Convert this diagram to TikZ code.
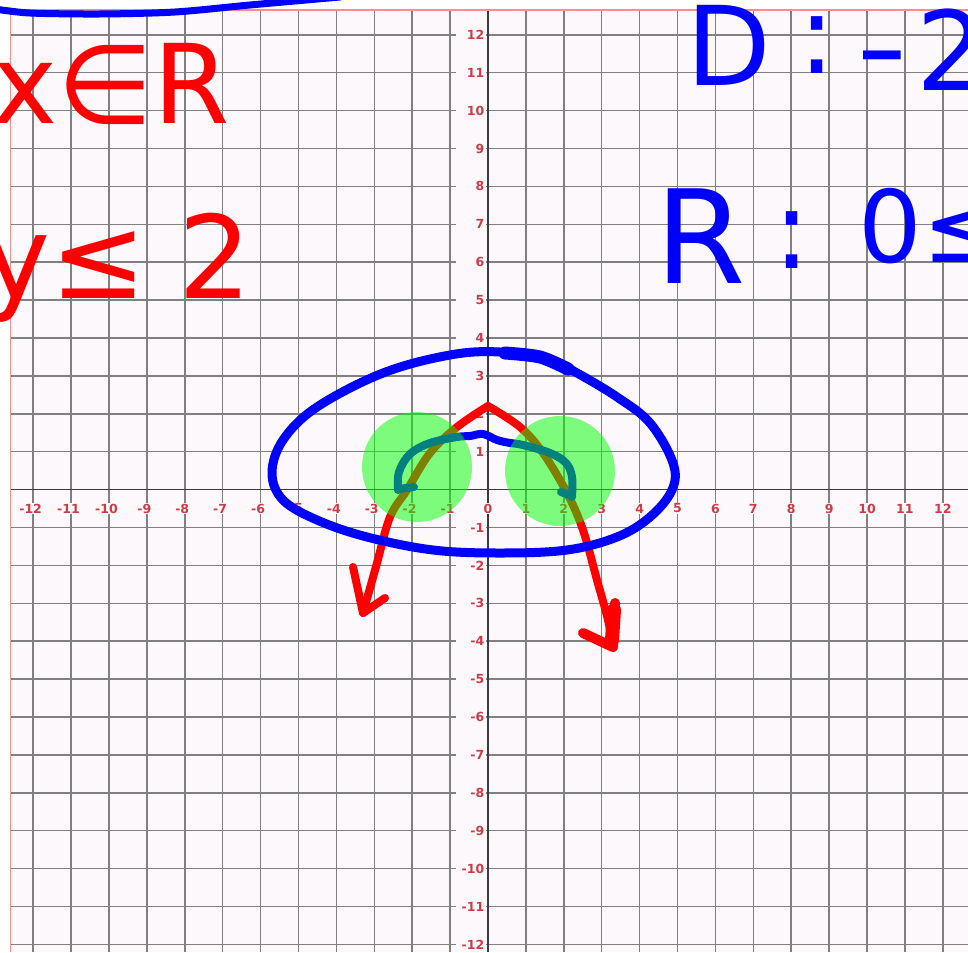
\documentclass[tikz,border=0pt]{standalone}
\usepackage{fontspec}
\newfontfamily\handfont{DejaVu Sans}
\newfontfamily\labfont{DejaVu Sans}
\definecolor{bgpink}{RGB}{252,248,252}
\definecolor{gridgray}{RGB}{128,128,128}
\definecolor{axisgray}{RGB}{60,60,60}
\definecolor{labred}{RGB}{205,60,70}
\definecolor{bordred}{RGB}{255,140,140}
\definecolor{penred}{RGB}{255,0,0}
\definecolor{penblue}{RGB}{0,0,255}
\definecolor{hlgreen}{RGB}{0,255,0}
\tikzset{
  gridline/.style={gridgray, line width=1.5pt},
  axisline/.style={axisgray, line width=1.2pt},
  xlab/.style={labred, font=\labfont\bfseries\fontsize{12.5}{12.5}\selectfont, fill=bgpink, inner sep=1pt},
  ylab/.style={labred, font=\labfont\bfseries\fontsize{12.5}{12.5}\selectfont, fill=bgpink, anchor=east, text width=26pt, align=right, inner sep=2pt, minimum height=14pt},
  redpen/.style={penred, line width=8pt, line cap=round, line join=round},
  bluepen/.style={penblue, line width=8pt, line cap=round, line join=round},
  hilite/.style={fill=hlgreen, fill opacity=0.5},
  redtext/.style={penred, inner sep=0pt, anchor=base west, font=\handfont},
  bluetext/.style={penblue, inner sep=0pt, anchor=base west, font=\handfont},
}
\begin{document}
\begin{tikzpicture}[x=1pt,y=-1pt]
\useasboundingbox (0,0) rectangle (968,952);
\fill[white] (0,0) rectangle (968,952);
\fill[bgpink] (10.7,10) rectangle (968,952);
% grid
\foreach \k in {-12,...,12} {
  \draw[gridline] ({488+37.9*\k},10) -- ({488+37.9*\k},952);
  \draw[gridline] (10.7,{489.6-37.9*\k}) -- (968,{489.6-37.9*\k});
}
\draw[axisline] (488,10) -- (488,952);
\draw[axisline] (10.7,489.6) -- (968,489.6);
\draw[bordred, line width=1.3pt] (10.7,952) -- (10.7,10) -- (968,10);
% axis labels
\node[xlab] (xl0) at (488,508.5) {0};
\foreach \k in {1,...,12} {
  \node[xlab] (xlp\k) at ({488+37.9*\k},508.5) {\k};
  \node[xlab] (xln\k) at ({488-37.9*\k},508.5) {\llap{-}\k};
  \node[ylab] (ylp\k) at (486.5,{489.6-37.9*\k}) {\k};
  \node[ylab] (yln\k) at (486.5,{489.6+37.9*\k}) {-\k};
}
% red curve
\draw[redpen] plot[smooth, tension=0.6] coordinates {(363,613) (370,588) (377,563) (390,517) (407,490) (430,453) (457,427) (488,406)};
\draw[redpen] plot[smooth, tension=0.6] coordinates {(488,406) (520,427) (543,453) (567,493) (583,530) (597,580) (608,620) (613,647)};
\draw[redpen] (353,567) -- (363,613) -- (385,598);
\draw[redpen, line width=10pt] (583,633) -- (613,647) -- (615,603);
\draw[redpen, line width=14pt] (612,640) -- (614,610);
% blue inner arch
\draw[bluepen] plot[smooth, tension=0.6] coordinates {(398,490) (399,472) (410,454) (430,443) (457,437) (470,436) (483,434) (497,440) (510,443) (523,445) (550,453) (566,463) (572,477) (572,497)};
\draw[bluepen] (398,489) -- (414,487);
\draw[bluepen] (572,496) -- (561,492);
% green highlights
\fill[hilite] (417,467) circle[radius=55];
\fill[hilite] (560,471) circle[radius=55];
% big blue loop
\draw[bluepen, line width=9pt] plot[smooth cycle, tension=0.6] coordinates {(272,473) (283,440) (317,407) (383,373) (450,355) (500,352) (550,360) (577,373) (617,397) (650,423) (673,463) (672,490) (650,517) (617,537) (567,550) (500,553) (433,550) (367,537) (317,520) (283,500)};
\draw[bluepen, line width=13pt] plot[smooth] coordinates {(505,353) (540,357) (568,369)};
% top-left blue stroke
\draw[bluepen, line width=7pt] plot[smooth] coordinates {(-5,9) (30,13) (100,14) (175,12) (250,5) (340,-3)};
% handwritten texts
\node[redtext] (t1) at (-8,124) {\fontsize{110}{110}\selectfont x∈R};
\node[redtext] (t2) at (-18,298) {\fontsize{115}{115}\selectfont y≤\hspace{32pt}2};
\node[bluetext] (t3) at (686,86) {\fontsize{110}{110}\selectfont \makebox[112pt][l]{D}\makebox[58pt][l]{\raisebox{12pt}{:}}\makebox[60pt][l]{\scalebox{1.3}[1]{-}}\raisebox{-5pt}{2}};
\node[bluetext] (t4) at (655,283) {\fontsize{130}{130}\selectfont R\hspace{28pt}\raisebox{15pt}{\fontsize{110}{110}\selectfont :}\hspace{48pt}\raisebox{21pt}{\fontsize{100}{100}\selectfont 0≤}};
\end{tikzpicture}
\end{document}
